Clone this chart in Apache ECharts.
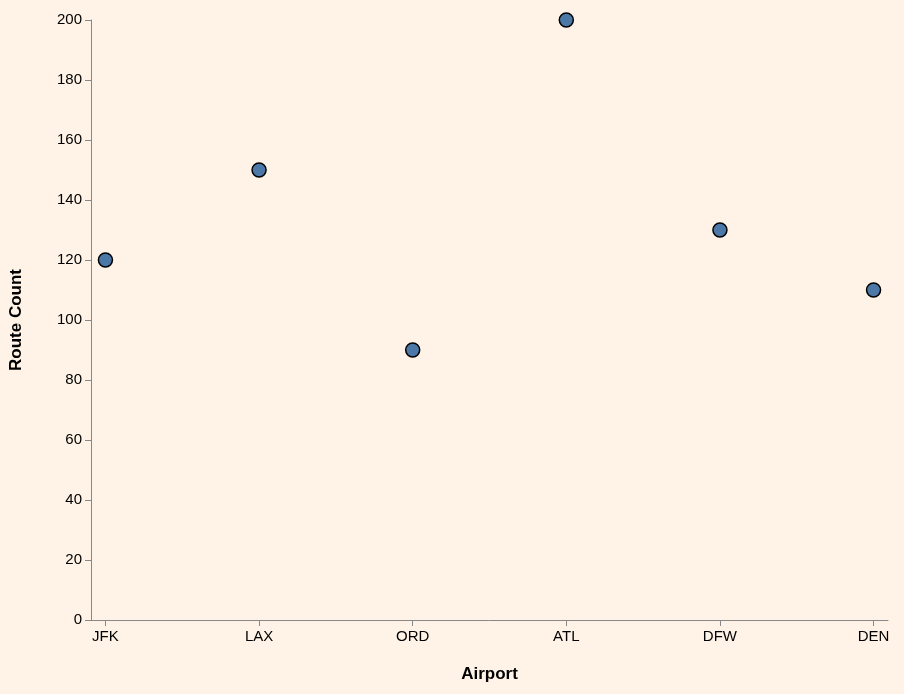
<!DOCTYPE html>
<html>
<head>
<meta charset="utf-8">
<script src="https://cdn.jsdelivr.net/npm/echarts@6/dist/echarts.min.js"></script>
<style>
  html, body { margin: 0; padding: 0; background: #fef3e6; }
  #chart { width: 904px; height: 694px; }
</style>
</head>
<body>
<div id="chart"></div>
<script>
var airports = ['JFK', 'LAX', 'ORD', 'ATL', 'DFW', 'DEN'];
var routeCounts = [120, 150, 90, 200, 130, 110];

var points = airports.map(function (a, i) { return [i, routeCounts[i]]; });
var idx = airports.map(function (a, i) { return i; });

var chart = echarts.init(document.getElementById('chart'));
chart.setOption({
    backgroundColor: '#fef3e6',
    textStyle: { fontFamily: 'Liberation Sans, Arial, sans-serif' },
    grid: { left: 89, right: 16, top: 20, bottom: 74 },
    xAxis: {
        type: 'value',
        min: -0.094,
        max: 5.094,
        name: 'Airport',
        nameLocation: 'middle',
        nameGap: 46,
        nameTextStyle: { color: '#000', fontSize: 17, fontWeight: 'bold' },
        axisLine: { onZero: false, lineStyle: { color: '#888' } },
        axisTick: { show: true, inside: false, length: 6, lineStyle: { color: '#888' }, customValues: idx },
        axisLabel: {
            color: '#000', fontSize: 15, margin: 9, customValues: idx,
            formatter: function (v) { return airports[Math.round(v)]; }
        },
        splitLine: { show: false }
    },
    yAxis: {
        type: 'value',
        min: 0,
        max: 200,
        interval: 20,
        name: 'Route Count',
        nameLocation: 'middle',
        nameGap: 66,
        nameTextStyle: { color: '#000', fontSize: 17, fontWeight: 'bold' },
        axisLine: { show: true, onZero: false, lineStyle: { color: '#888' } },
        axisTick: { show: true, length: 6, lineStyle: { color: '#888' } },
        axisLabel: { color: '#000', fontSize: 15, margin: 9 },
        splitLine: { show: false }
    },
    series: [{
        type: 'scatter',
        data: points,
        symbolSize: 14,
        itemStyle: { color: '#4c78a8', opacity: 1, borderColor: '#000', borderWidth: 1.5 }
    }]
});
</script>
</body>
</html>
